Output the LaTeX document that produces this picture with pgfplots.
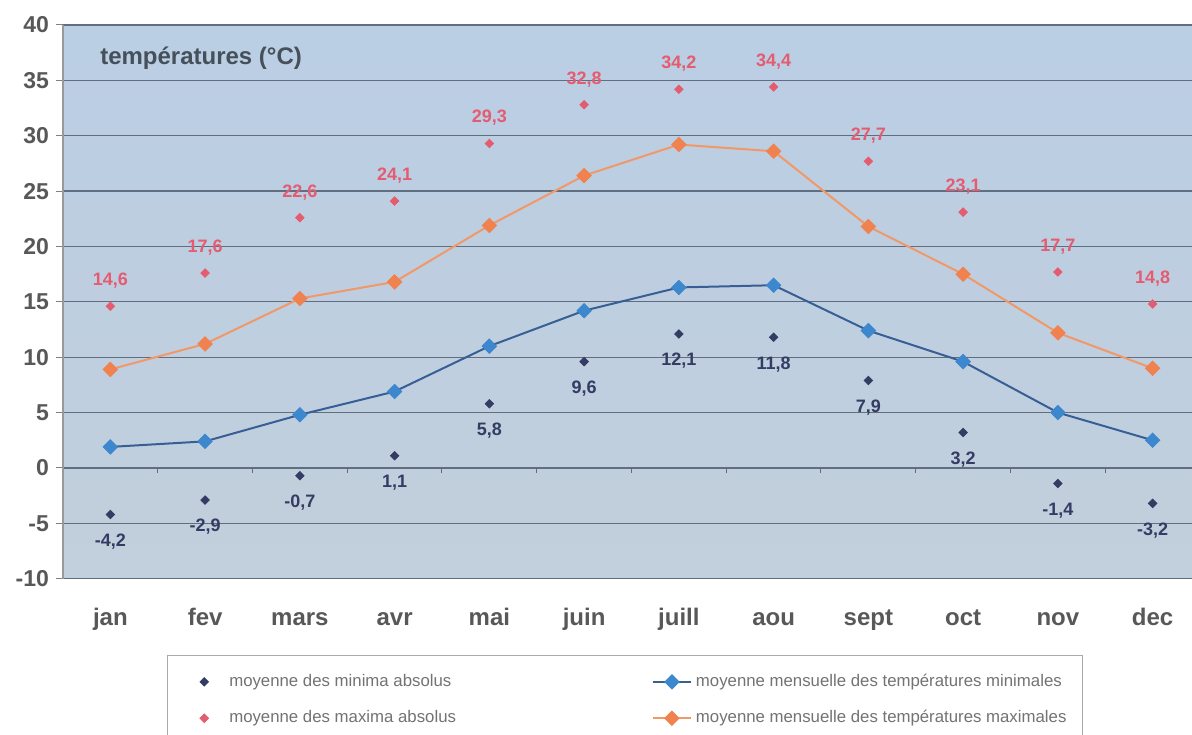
\documentclass[border=0pt]{standalone}
\usepackage{fontspec}
\setmainfont{Liberation Sans}
\usepackage{pgfplots}
\usepackage{pgfplotstable}
\pgfplotsset{compat=1.18}
\usetikzlibrary{calc,backgrounds}

\definecolor{bgtop}{RGB}{186,206,228}
\definecolor{bgbot}{RGB}{194,207,220}
\definecolor{gridc}{RGB}{96,110,128}
\definecolor{tickc}{RGB}{88,88,88}
\definecolor{minc}{RGB}{52,60,100}
\definecolor{maxc}{RGB}{228,92,112}
\definecolor{lmin}{RGB}{55,95,150}
\definecolor{mkmin}{RGB}{60,135,205}
\definecolor{lmax}{RGB}{242,152,104}
\definecolor{mkmax}{RGB}{240,130,80}
\definecolor{titc}{RGB}{70,80,90}
\definecolor{legtext}{RGB}{115,115,115}
\definecolor{legbord}{RGB}{170,170,170}

% m: month index (jan = 0)
\pgfplotstableread{
m absmin meanmin absmax meanmax
0  -4.2  1.9 14.6  8.9
1  -2.9  2.4 17.6 11.2
2  -0.7  4.8 22.6 15.3
3   1.1  6.9 24.1 16.8
4   5.8 11.0 29.3 21.9
5   9.6 14.2 32.8 26.4
6  12.1 16.3 34.2 29.2
7  11.8 16.5 34.4 28.6
8   7.9 12.4 27.7 21.8
9   3.2  9.6 23.1 17.5
10 -1.4  5.0 17.7 12.2
11 -3.2  2.5 14.8  9.0
}\data

\pgfplotsset{
  markonly/.style={legend image code/.code={
    \path[draw=none] (0pt,0pt) -- (23pt,0pt);
    \draw[##1] plot coordinates {(12.5pt,0pt)};}},
  lineleg/.style={legend image code/.code={
    \draw[##1] (0pt,0pt) -- (19pt,0pt);
    \draw[##1] plot coordinates {(9.5pt,0pt)};}},
}

\begin{document}
\begin{tikzpicture}
\begin{axis}[
  scale only axis,
  width=568.8pt, height=277pt,
  xmin=-0.5, xmax=11.5, ymin=-10, ymax=40,
  xtick={0,...,11},
  xticklabels={jan,fev,mars,avr,mai,juin,juill,aou,sept,oct,nov,dec},
  ytick={-10,-5,...,40},
  ymajorgrids,
  grid style={color=gridc, line width=0.6pt},
  major tick length=3.5pt, tick align=outside,
  xtick style={draw=none},
  ytick style={color=gray, line width=0.5pt},
  separate axis lines,
  x axis line style={draw=none},
  y axis line style={color=gray!80, line width=0.8pt},
  axis background/.style={shade, top color=bgtop, bottom color=bgbot},
  /pgf/number format/assume math mode=true,
  yticklabel style={font=\fontsize{11.5}{13}\selectfont\bfseries, text=tickc},
  xticklabel style={font=\fontsize{12}{14}\selectfont\bfseries, text=tickc,
    anchor=base, yshift=-20pt},
  legend columns=2,
  legend style={at={(0.0914,-0.1375)}, anchor=north west,
    draw=legbord, fill=white, text=legtext,
    font=\fontsize{8.4}{10}\selectfont,
    inner xsep=6pt, inner ysep=7.5pt, row sep=6.5pt,
    /tikz/every even column/.append style={column sep=96pt}},
  legend cell align=left,
]
\coordinate (bl) at (rel axis cs:0,0);
\coordinate (tr) at (rel axis cs:1,1);

\addplot[markonly, only marks, mark=square*, mark size=1.5pt,
  mark options={rotate=45}, color=minc,
  point meta=y,
  nodes near coords={\pgfmathprintnumber[use comma,fixed,fixed zerofill,precision=1]{\pgfplotspointmeta}},
  every node near coord/.append style={font=\fontsize{9}{10}\selectfont\bfseries,
    text=minc, anchor=center, yshift=-13.5pt}]
  table[x=m, y=absmin] {\data};
\addlegendentry{moyenne des minima absolus}

\addplot[lineleg, color=lmin, line width=1pt, mark=square*, mark size=2.5pt,
  mark options={rotate=45, fill=mkmin, draw=mkmin, line width=0.5pt}]
  table[x=m, y=meanmin] {\data};
\addlegendentry{moyenne mensuelle des températures minimales}

\addplot[markonly, only marks, mark=square*, mark size=1.5pt,
  mark options={rotate=45}, color=maxc,
  point meta=y,
  nodes near coords={\pgfmathprintnumber[use comma,fixed,fixed zerofill,precision=1]{\pgfplotspointmeta}},
  every node near coord/.append style={font=\fontsize{9}{10}\selectfont\bfseries,
    text=maxc, anchor=center, yshift=12.7pt}]
  table[x=m, y=absmax] {\data};
\addlegendentry{moyenne des maxima absolus}

\addplot[lineleg, color=lmax, line width=1pt, mark=square*, mark size=2.5pt,
  mark options={rotate=45, fill=mkmax, draw=mkmax, line width=0.5pt}]
  table[x=m, y=meanmax] {\data};
\addlegendentry{moyenne mensuelle des températures maximales}

% small category ticks on the zero line
\pgfplotsinvokeforeach{0,...,10}{
  \draw[gridc, line width=0.5pt] (axis cs:#1.5,0) -- ++(0pt,-2.5pt);
}

\node[anchor=west, inner sep=0pt, text=titc, font=\fontsize{12}{14}\selectfont\bfseries]
  at (rel axis cs:0.0325,0.94) {températures (°C)};
\end{axis}

\pgfresetboundingbox
\path ($(bl)+(-31.5pt,-78pt)$) rectangle ($(tr)+(-4pt,12.5pt)$);
\begin{scope}[on background layer]
  \fill[white] ($(bl)+(-31.5pt,-78pt)$) rectangle ($(tr)+(-4pt,12.5pt)$);
\end{scope}
\end{tikzpicture}
\end{document}
